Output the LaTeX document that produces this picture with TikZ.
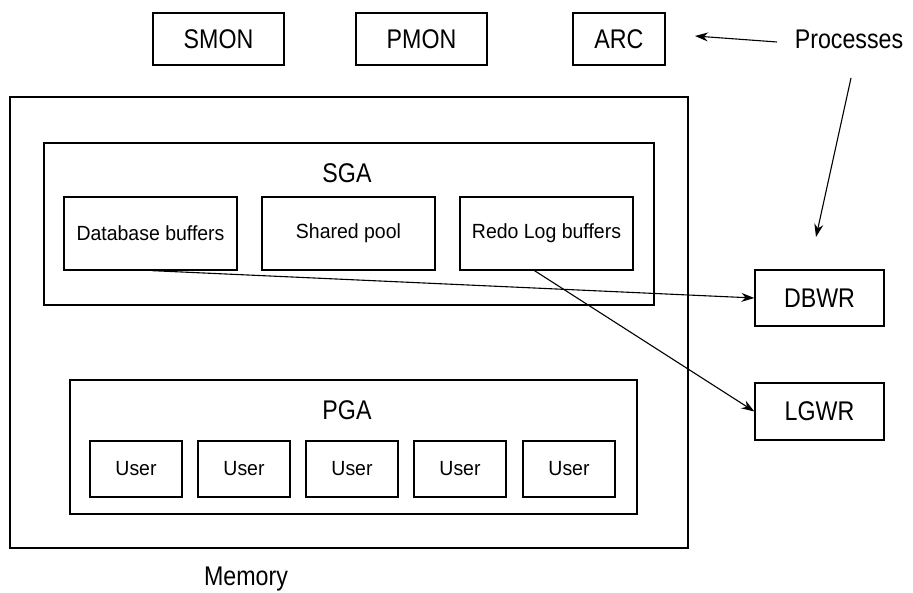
\documentclass[tikz,border=0pt]{standalone}
\usepackage{fontspec}
\setmainfont{Liberation Sans}
\newfontfamily\bigf[FakeStretch=0.86]{Liberation Sans}
\newfontfamily\smallf[FakeStretch=0.95]{Liberation Sans}
\usetikzlibrary{arrows.meta}
\tikzset{
  box/.style={draw=black, line width=1.3pt, inner sep=0pt, rectangle},
  bigtxt/.style={font=\bigf\fontsize{27}{30}\selectfont},
  smalltxt/.style={font=\smallf\fontsize{20.5}{23}\selectfont},
  arr/.style={line width=1.1pt, -{Stealth[length=13pt,width=9pt]}}
}
\begin{document}
\begin{tikzpicture}[x=1pt,y=-1pt]
\useasboundingbox (0,0) rectangle (913,593);
% processes
\node[box,bigtxt,minimum width=131pt,minimum height=52pt] (smon) at (218.5,39) {SMON};
\node[box,bigtxt,minimum width=131pt,minimum height=52pt] (pmon) at (421.5,39) {PMON};
\node[box,bigtxt,minimum width=92pt,minimum height=52pt] (arc) at (619,39) {ARC};
\node[bigtxt,inner sep=0pt] (proc) at (849,39) {Processes};
% memory
\node[box,minimum width=678pt,minimum height=451pt] (mem) at (349,322.5) {};
\node[bigtxt,inner sep=0pt] (memlbl) at (246,579) {Memory};
% SGA
\node[box,minimum width=610pt,minimum height=162pt] (sga) at (349,224) {};
\node[bigtxt,inner sep=0pt] (sgalbl) at (347,173) {SGA};
\node[box,smalltxt,minimum width=173pt,minimum height=73pt] (db) at (150.5,233.5) {Database buffers};
\node[box,smalltxt,minimum width=173pt,minimum height=73pt] (sp) at (348.5,233.5) {Shared pool};
\node[box,smalltxt,minimum width=173pt,minimum height=73pt] (redo) at (546.5,233.5) {Redo Log buffers};
% PGA
\node[box,minimum width=567pt,minimum height=134pt] (pga) at (353.5,447) {};
\node[bigtxt,inner sep=0pt] (pgalbl) at (347,410) {PGA};
\foreach \i/\x in {1/136,2/244,3/352,4/460,5/569}{
  \node[box,smalltxt,minimum width=92pt,minimum height=56pt] (u\i) at (\x,469) {User};
}
% writers
\node[box,bigtxt,minimum width=129pt,minimum height=56pt] (dbwr) at (819.5,298) {DBWR};
\node[box,bigtxt,minimum width=129pt,minimum height=57pt] (lgwr) at (819.5,411.5) {LGWR};
% arrows
\coordinate (p1s) at (777,42);
\coordinate (p1e) at (695,36);
\coordinate (p2s) at (851,78);
\coordinate (p2e) at (816,237);
\draw[arr] (p1s) -- (p1e);
\draw[arr] (p2s) -- (p2e);
\draw[arr] ([xshift=1.5pt]db.south) -- (dbwr.west);
\draw[arr] ([xshift=-12pt]redo.south) -- (lgwr.west);
\end{tikzpicture}
\end{document}
